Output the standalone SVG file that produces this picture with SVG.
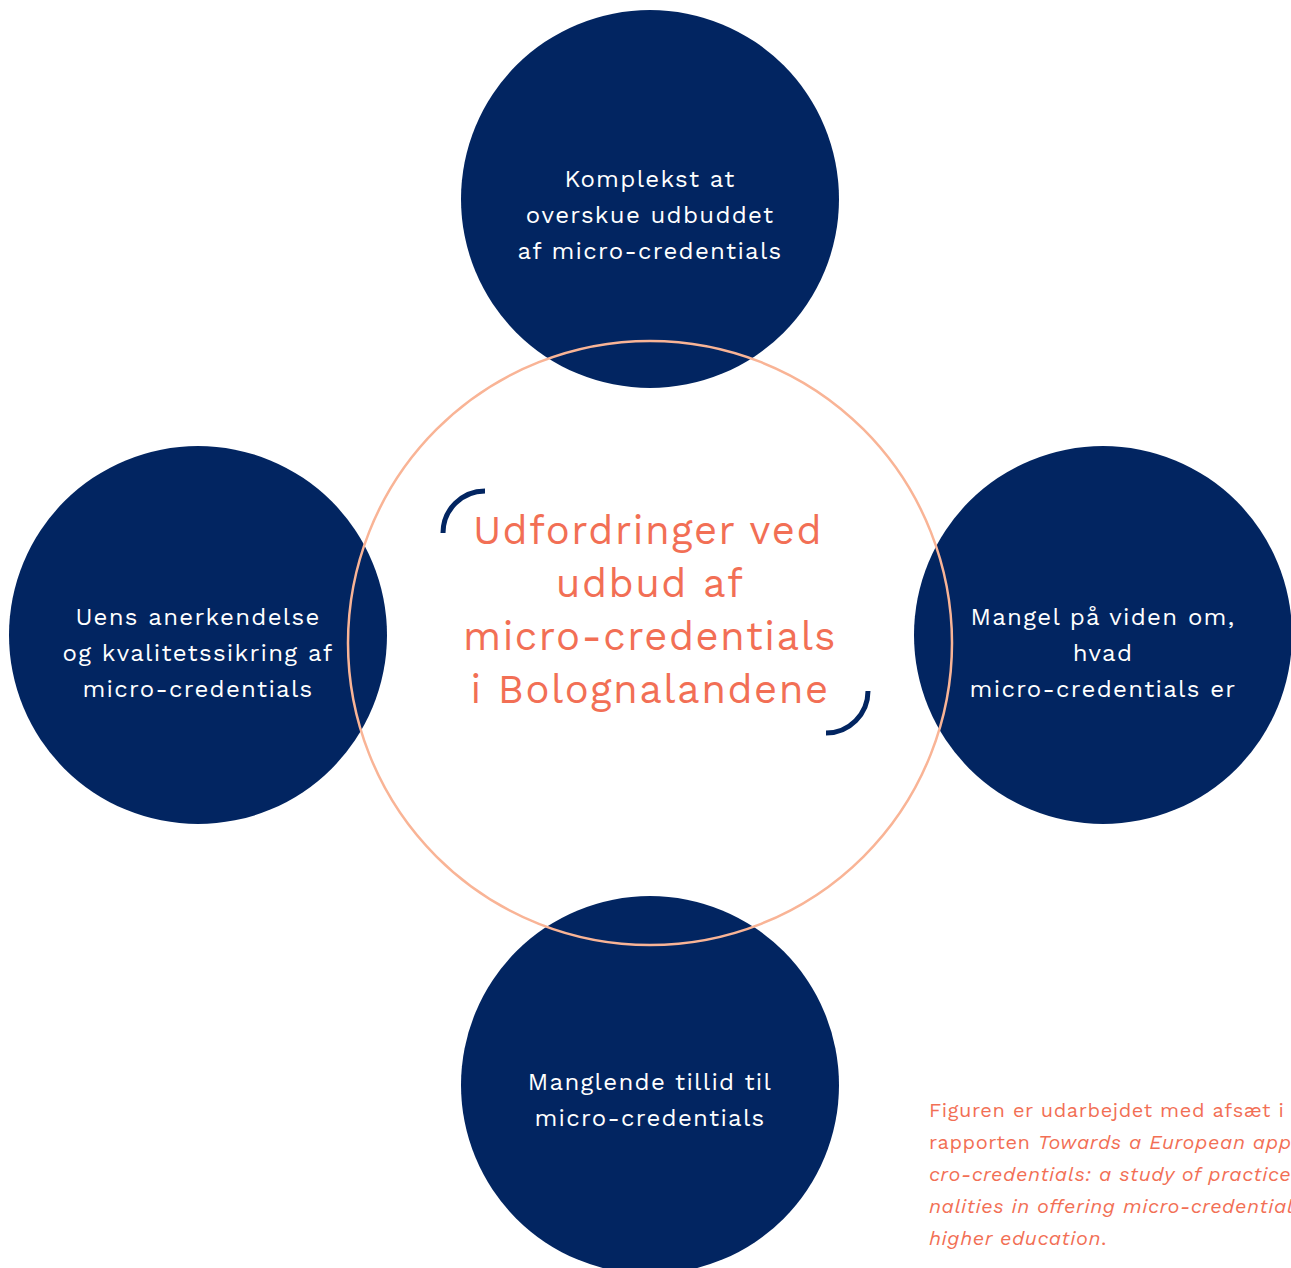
<svg xmlns="http://www.w3.org/2000/svg" width="1291" height="1268" viewBox="0 0 1291 1268">
<style>
.node{fill:#022561}
.nt{fill:#ffffff;font-family:"Work Sans","Open Sans","Liberation Sans",sans-serif;font-size:24px;text-anchor:middle;letter-spacing:1.3px}
.ct{fill:#f26f55;font-family:"Work Sans","Open Sans","Liberation Sans",sans-serif;font-size:40px;text-anchor:middle;letter-spacing:1.5px}
.cap{fill:#f26f55;font-family:"Work Sans","Open Sans","Liberation Sans",sans-serif;font-size:20px;letter-spacing:0.6px}
.arc{fill:none;stroke:#022561;stroke-width:5}
</style>
<rect width="1291" height="1268" fill="#ffffff"/>
<g id="node-top">
<circle class="node" cx="650" cy="199" r="189"/>
<text class="nt" x="650" y="187">Komplekst at</text>
<text class="nt" x="650" y="223">overskue udbuddet</text>
<text class="nt" x="650" y="259">af micro-credentials</text>
</g>
<g id="node-left">
<circle class="node" cx="198" cy="635" r="189"/>
<text class="nt" x="198" y="625">Uens anerkendelse</text>
<text class="nt" x="198" y="661">og kvalitetssikring af</text>
<text class="nt" x="198" y="697">micro-credentials</text>
</g>
<g id="node-right">
<circle class="node" cx="1103" cy="635" r="189"/>
<text class="nt" x="1103" y="625">Mangel på viden om,</text>
<text class="nt" x="1103" y="661">hvad</text>
<text class="nt" x="1103" y="697">micro-credentials er</text>
</g>
<g id="node-bottom">
<circle class="node" cx="650" cy="1085" r="189"/>
<text class="nt" x="650" y="1090">Manglende tillid til</text>
<text class="nt" x="650" y="1126">micro-credentials</text>
</g>
<g id="center">
<circle cx="650" cy="643" r="302" fill="none" stroke="#f9b496" stroke-width="2.5"/>
<path class="arc" d="M443,533 A42,42 0 0 1 485,491"/>
<path class="arc" d="M868,691 A42,42 0 0 1 826,733"/>
<text class="ct" x="648" y="544">Udfordringer ved</text>
<text class="ct" x="650" y="597">udbud af</text>
<text class="ct" x="650" y="650">micro-credentials</text>
<text class="ct" x="650" y="703">i Bolognalandene</text>
</g>
<g id="caption">
<text class="cap" x="929" y="1117">Figuren er udarbejdet med afsæt i</text>
<text class="cap" x="929" y="1149">rapporten <tspan font-style="italic">Towards a European app</tspan></text>
<text class="cap" x="929" y="1181" font-style="italic">cro-credentials: a study of practice</text>
<text class="cap" x="929" y="1213" font-style="italic">nalities in offering micro-credential</text>
<text class="cap" x="929" y="1245"><tspan font-style="italic">higher education</tspan>.</text>
</g>
</svg>
